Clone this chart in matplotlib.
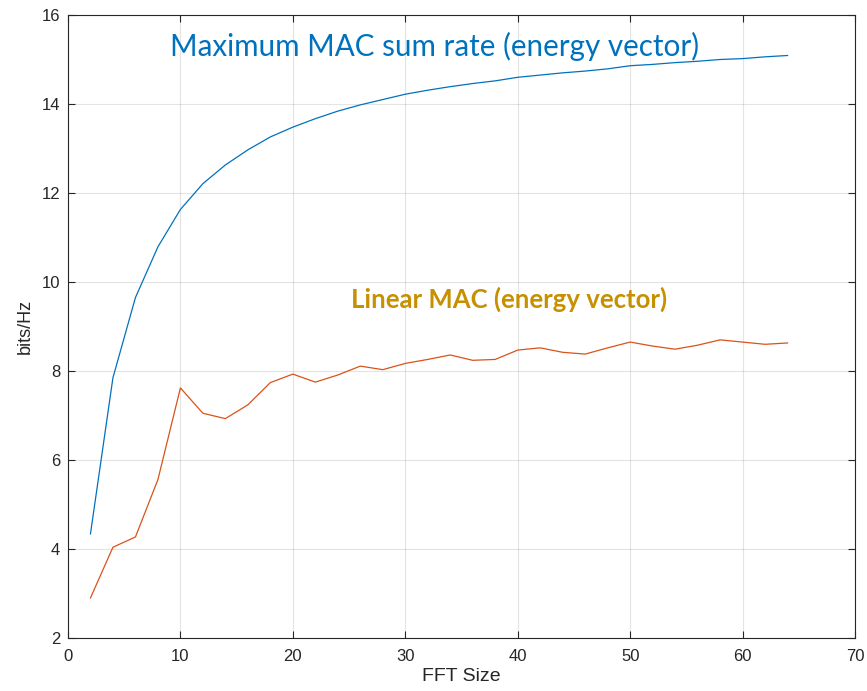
import numpy as np
import matplotlib
matplotlib.use("Agg")
import matplotlib.pyplot as plt

# FFT sizes
fft_size = [2, 4, 6, 8, 10, 12, 14, 16, 18, 20, 22, 24, 26, 28, 30, 32,
            34, 36, 38, 40, 42, 44, 46, 48, 50, 52, 54, 56, 58, 60, 62, 64]

# maximum MAC sum rate (energy vector)
max_rate = [4.34, 7.85, 9.65, 10.79, 11.63, 12.21, 12.63, 12.97, 13.26, 13.48,
            13.67, 13.84, 13.98, 14.10, 14.22, 14.31, 14.39, 14.46, 14.52, 14.60,
            14.65, 14.70, 14.74, 14.79, 14.86, 14.89, 14.93, 14.96, 15.00, 15.02,
            15.06, 15.09]

# linear MAC (energy vector)
lin_rate = [2.90, 4.04, 4.27, 5.56, 7.62, 7.05, 6.93, 7.24, 7.74, 7.93,
            7.75, 7.91, 8.11, 8.03, 8.17, 8.26, 8.36, 8.24, 8.26, 8.47,
            8.52, 8.42, 8.38, 8.52, 8.65, 8.56, 8.49, 8.58, 8.70, 8.65,
            8.60, 8.63]

xticks = [0, 10, 20, 30, 40, 50, 60, 70]
yticks = [2, 4, 6, 8, 10, 12, 14, 16]

plt.rcParams['font.family'] = ['Liberation Sans', 'DejaVu Sans']

fig = plt.figure(figsize=(8.67, 6.91), dpi=100)
ax = fig.add_axes([0.0784, 0.0767, 0.9078, 0.9016])

ax.plot(fft_size, max_rate, color='#0072BD', lw=0.9)
ax.plot(fft_size, lin_rate, color='#D95319', lw=0.9)

ax.set_xlim(0, 70)
ax.set_ylim(2, 16)
ax.set_xticks(xticks)
ax.set_yticks(yticks)
ax.grid(True, color='#262626', alpha=0.12, lw=0.8)
ax.set_axisbelow(True)
ax.tick_params(direction='in', length=5, width=0.8, colors='#262626',
               labelsize=12, top=True, right=True)
ax.tick_params(axis='x', pad=8)
ax.tick_params(axis='y', pad=5.5)
for s in ax.spines.values():
    s.set_color('#262626')
    s.set_linewidth(0.8)

ax.set_xlabel('FFT Size', fontsize=14, color='#262626', labelpad=3)
ax.set_ylabel('bits/Hz', fontsize=13, color='#262626', labelpad=6)

ax.text(9.05, 15.08, 'Maximum MAC sum rate (energy vector)', color='#0072BD',
        fontsize=21.3, family='Lato', ha='left', va='baseline')
ax.text(25.2, 9.42, 'Linear MAC (energy vector)', color='#C69000',
        fontsize=18.5, family='Lato', fontweight='bold', ha='left', va='baseline')

fig.savefig('out.png', dpi=100)
